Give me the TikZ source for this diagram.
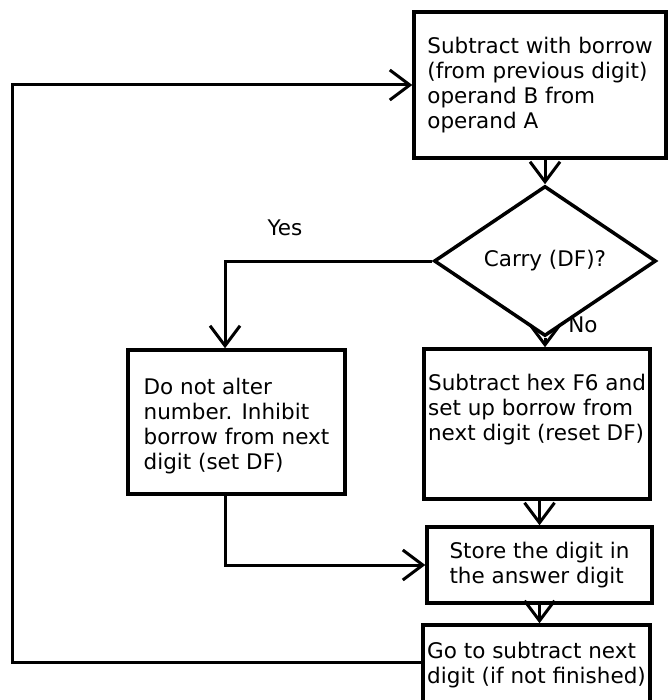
\documentclass[tikz,border=0pt]{standalone}
\usepackage{fontspec}
\setmainfont{DejaVu Sans}
\usetikzlibrary{arrows.meta,shapes.geometric}
\tikzset{
  box/.style={draw, line width=3.5pt, rectangle, align=left, inner sep=0pt,
    font=\fontsize{21.5}{25}\selectfont},
  decision/.style={draw, line width=3.5pt, diamond, inner sep=0pt,
    font=\fontsize{21.5}{25}\selectfont},
  lbl/.style={font=\fontsize{21.5}{25}\selectfont, inner sep=0pt},
  arr/.style={line width=3pt, -{Straight Barb[length=20pt,width=30pt,line width=3pt]}},
  conn/.style={line width=3pt}
}
\begin{document}
\begin{tikzpicture}[x=1pt,y=-1pt]
\useasboundingbox (0,0) rectangle (668,700);
\clip (0,0) rectangle (668,700);
\node[box, minimum width=252pt, minimum height=146pt] (b1) at (540,85)
  {Subtract with borrow\\(from previous digit)\\operand B from\\operand A};
\node[decision, minimum width=222pt, minimum height=150pt] (dia) at (545,261) {Carry (DF)?};
\node[box, minimum width=217pt, minimum height=144pt, text depth=0pt] (b2) at (236.5,422)
  {\rule{0pt}{20pt}Do not alter\\number. Inhibit\\borrow from next\\digit (set DF)};
\node[box, minimum width=226pt, minimum height=150pt] (b3) at (537,424)
  {Subtract hex F6 and\\set up borrow from\\next digit (reset DF)\\\strut};
\node[box, minimum width=225pt, minimum height=76pt] (b4) at (539.5,565)
  {Store the digit in\\the answer digit};
\node[box, minimum width=227pt, minimum height=80pt] (b5) at (536.5,665)
  {Go to subtract next\\digit (if not finished)};
\node[lbl] (yes) at (285,228) {Yes};
\node[lbl] (no) at (583,325) {No};
\coordinate (yc) at (225,261);
\coordinate (lc) at (12,662);
\draw[arr] (b1.south -| dia.north) -- (dia.north);
\draw[arr] (dia.south) -- (dia.south |- b3.north);
\draw[arr] (dia.west) -- (yc) -- (yc |- b2.north);
\draw[arr] (yc |- b2.south) |- (b4.west);
\draw[arr] (b3.south -| b4.north) -- (b4.north);
\draw[arr] (b4.south) -- (b4.south |- b5.north);
\draw[arr] (b5.west |- lc) -- (lc) |- (b1.west);
\end{tikzpicture}
\end{document}
